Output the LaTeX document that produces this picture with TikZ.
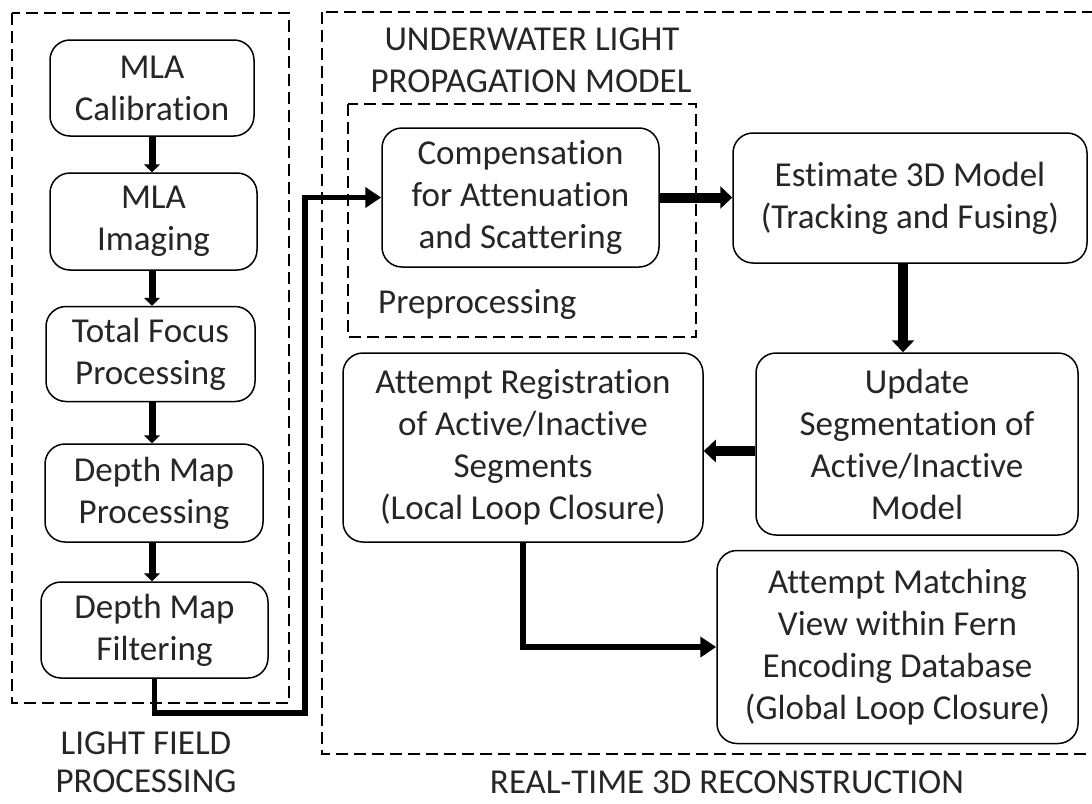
\documentclass[tikz,border=0pt]{standalone}
\usepackage{fontspec}
\setmainfont{Carlito}[Ligatures=NoCommon]
\usetikzlibrary{arrows.meta}
\begin{document}
\begin{tikzpicture}[x=1pt,y=-1pt,
  txt/.style={font=\fontsize{35}{42}\selectfont, text=black!85, inner sep=0pt},
  box/.style={txt, draw, line width=1.5pt, rounded corners=20pt, align=center},
  grp/.style={draw, line width=1.5pt, dash pattern=on 12pt off 6pt},
  flowthin/.style={draw, line width=5.5pt, -{Triangle[width=20pt,length=16pt]}},
  flowleft/.style={draw, line width=7pt, -{Triangle[width=16pt,length=8pt]}},
  flowthick/.style={draw, line width=10pt, -{Triangle[width=22pt,length=12pt]}}
]
\useasboundingbox (0,0) rectangle (1092,803);
\fill[white] (0,0) rectangle (1092,803);

% group frames
\draw[grp] (12,13) rectangle (289,703);
\draw[grp] (322,12) rectangle (1100,754);
\draw[grp] (348,104) rectangle (696,337);

% left column
\node[box, minimum width=204pt, minimum height=96pt] (cal) at (152,88) {MLA\\Calibration};
\node[box, minimum width=207pt, minimum height=97pt] (img) at (153.5,221.5) {MLA\\Imaging};
\node[box, minimum width=209pt, minimum height=95pt] (tfp) at (150.5,354) {Total Focus\\Processing};
\node[box, minimum width=218pt, minimum height=98pt] (dmp) at (154,493) {Depth Map\\Processing};
\node[box, minimum width=227pt, minimum height=96pt] (dmf) at (154.5,630) {Depth Map\\Filtering};

% right part
\node[box, minimum width=277pt, minimum height=139pt] (comp) at (520.5,197.5) {Compensation\\for Attenuation\\and Scattering};
\node[box, minimum width=354pt, minimum height=130pt] (est) at (910,198) {Estimate 3D Model\\(Tracking and Fusing)};
\node[box, minimum width=322pt, minimum height=182pt] (upd) at (917,444) {Update\\Segmentation of\\Active/Inactive\\Model};
\node[box, minimum width=360pt, minimum height=189pt] (reg) at (523,447.5) {Attempt Registration\\of Active/Inactive\\Segments\\(Local Loop Closure)};
\node[box, minimum width=361pt, minimum height=193pt] (match) at (897.5,647) {Attempt Matching\\View within Fern\\Encoding Database\\(Global Loop Closure)};

% labels
\node[txt, anchor=base] (t1) at (532,50) {UNDERWATER LIGHT};
\node[txt, anchor=base] (t2) at (531,92) {PROPAGATION MODEL};
\node[txt, anchor=base west] (pre) at (378,313) {Preprocessing};
\node[txt, anchor=base] (lf1) at (146,754) {LIGHT FIELD};
\node[txt, anchor=base] (lf2) at (146,792) {PROCESSING};
\node[txt, anchor=base] (rt) at (727,793) {REAL-TIME 3D RECONSTRUCTION};

% helper coordinates
\coordinate (lx) at (152,0);
\coordinate (c1) at (305,713);
\coordinate (ax) at (903,0);
\coordinate (ay) at (0,451);

% left chain
\draw[flowleft] (cal.south -| lx) -- (img.north -| lx);
\draw[flowleft] (img.south -| lx) -- (tfp.north -| lx);
\draw[flowleft] (tfp.south -| lx) -- (dmp.north -| lx);
\draw[flowleft] (dmp.south -| lx) -- (dmf.north -| lx);

% cross connector
\draw[flowthin] (dmf.south) |- (c1) |- (comp.west);

% right flow
\draw[flowthick] (comp.east) -- (comp.east -| est.west);
\draw[flowthick] (est.south -| ax) -- (upd.north -| ax);
\draw[flowthick] (upd.west |- ay) -- (reg.east |- ay);
\draw[flowthin] (reg.south) |- (match.west);
\end{tikzpicture}
\end{document}
